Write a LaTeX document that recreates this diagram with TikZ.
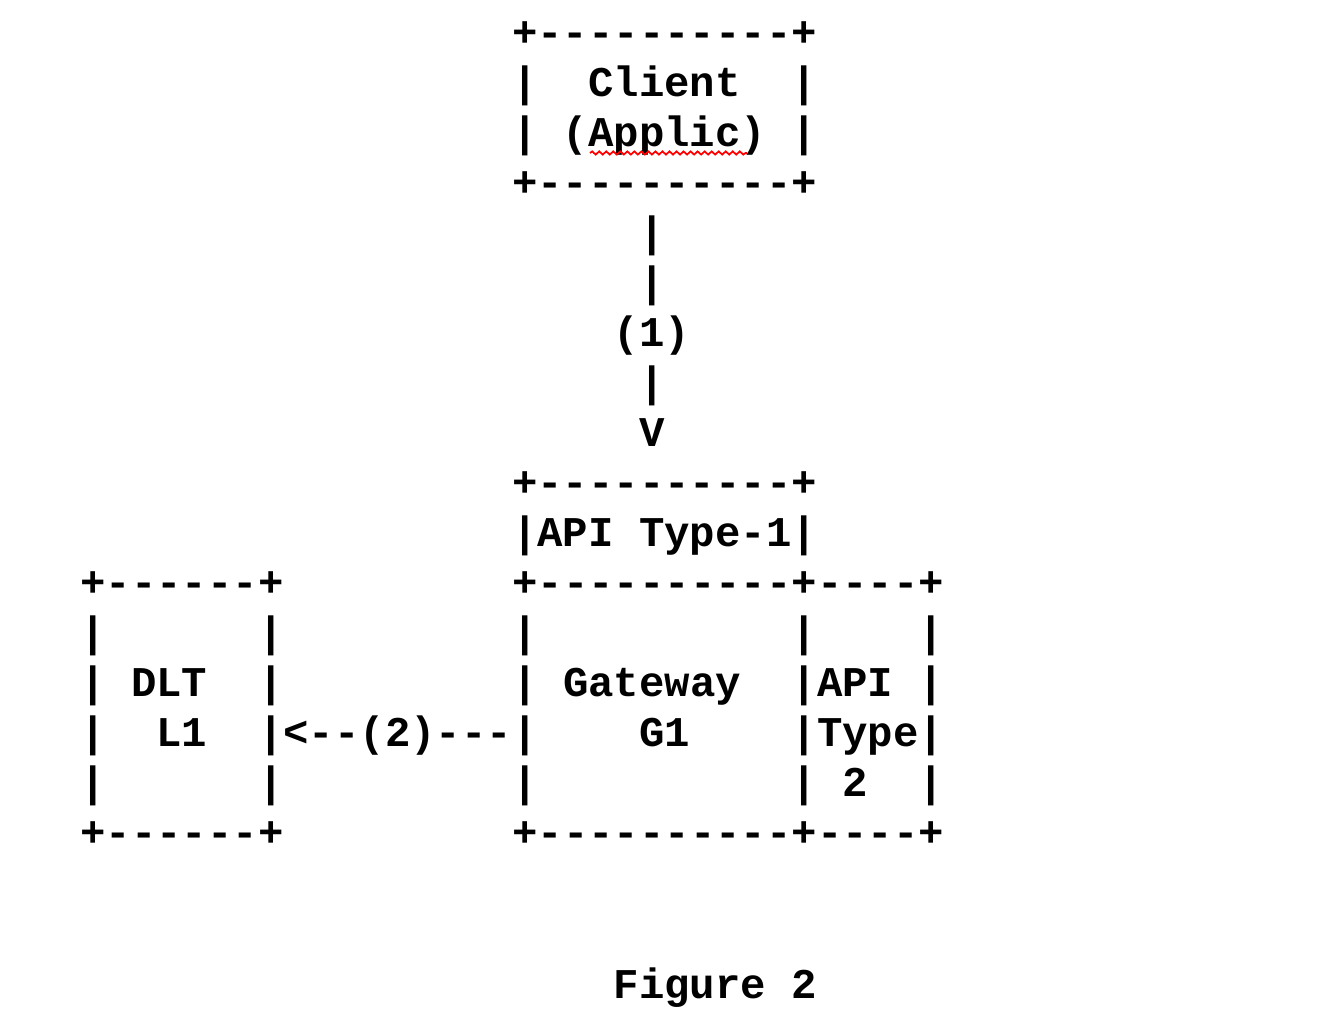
\documentclass[tikz,border=0pt]{standalone}
\usepackage{fontspec}
\setmonofont{Liberation Mono}
\usetikzlibrary{decorations.pathmorphing}

\begin{document}
\begin{tikzpicture}[
  x=0.02cm,y=-0.02cm,
  txt/.style={anchor=base west,inner sep=0pt,outer sep=0pt,
    font=\fontsize{24.1pt}{50pt}\selectfont\ttfamily\bfseries},
  spell/.style={red,line width=1pt,decorate,
    decoration={snake,segment length=4pt,amplitude=0.9pt}}
]
  \useasboundingbox (0,0) rectangle (1340,1026);
  % client box
  \node[txt](r0) at (512.1,46.5){+----------+};
  \node[txt](r1) at (512.1,96.5){|~~Client~~|};
  \node[txt](r2) at (512.1,146.5){|~(Applic)~|};
  \node[txt](r3) at (512.1,196.5){+----------+};
  % call (1)
  \node[txt](r4) at (639.1,246.5){|};
  \node[txt](r5) at (639.1,296.5){|};
  \node[txt](r6) at (613.7,346.5){(1)};
  \node[txt](r7) at (639.1,396.5){|};
  \node[txt](r8) at (639.1,446.5){V};
  % gateway, api boxes and dlt
  \node[txt](r9) at (512.1,496.5){+----------+};
  \node[txt](r10) at (512.1,546.5){|API~Type-1|};
  \node[txt](r11) at (80.3,596.5){+------+~~~~~~~~~+----------+----+};
  \node[txt](r12) at (80.3,646.5){|~~~~~~|~~~~~~~~~|~~~~~~~~~~|~~~~|};
  \node[txt](r13) at (80.3,696.5){|~DLT~~|~~~~~~~~~|~Gateway~~|API~|};
  \node[txt](r14) at (80.3,746.5){|~~L1~~|<--(2)---|~~~~G1~~~~|Type|};
  \node[txt](r15) at (80.3,796.5){|~~~~~~|~~~~~~~~~|~~~~~~~~~~|~2~~|};
  \node[txt](r16) at (80.3,846.5){+------+~~~~~~~~~+----------+----+};
  % caption
  \node[txt](cap) at (613.7,998.5){Figure~2};
  \draw[spell] (590,153) -- (747,153);
\end{tikzpicture}
\end{document}
